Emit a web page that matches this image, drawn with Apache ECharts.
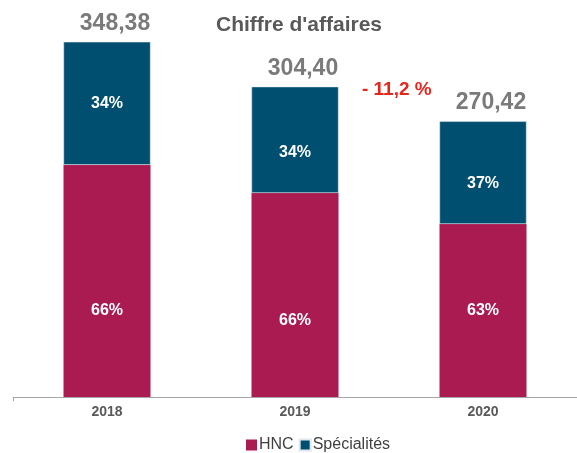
<!DOCTYPE html>
<html>
<head>
<meta charset="utf-8">
<script src="https://cdn.jsdelivr.net/npm/echarts@6/dist/echarts.min.js"></script>
<style>
  html, body { margin: 0; padding: 0; background: #fff; }
  #chart { width: 577px; height: 453px; }
</style>
</head>
<body>
<div id="chart"></div>
<script>
const years = ['2018', '2019', '2020']
const totals = [348.38, 304.40, 270.42]
const hnc = [227.7, 200.2, 169.8]
const specialites = [120.68, 104.2, 100.62]
const hncPct = ['66%', '66%', '63%']
const specPct = ['34%', '34%', '37%']
const variation = '- 11,2 %'

const chart = echarts.init(document.getElementById('chart'), undefined, { renderer: 'canvas' })
const font = 'Liberation Sans, Arial, sans-serif'

const pctLabel = (labels) => ({
  show: true,
  position: 'inside',
  color: '#fff',
  fontFamily: font,
  fontWeight: 'bold',
  fontSize: 16,
  formatter: (p) => labels[p.dataIndex],
})

chart.setOption({
  animation: false,
  backgroundColor: '#fff',
  grid: { left: 13, width: 568, top: 30, bottom: 56 },
  title: {
    text: "Chiffre d'affaires",
    left: 211,
    top: 10,
    textStyle: { color: '#595959', fontFamily: font, fontWeight: 'bold', fontSize: 21 },
  },
  graphic: [
    {
      type: 'text',
      left: 362,
      top: 80,
      style: { text: variation, fill: '#e8251c', font: 'bold 19px ' + font },
    },
  ],
  legend: {
    bottom: -5,
    left: 241,
    itemWidth: 11,
    itemHeight: 11,
    itemGap: 5,
    icon: 'rect',
    data: ['HNC', 'Spécialités'],
    textStyle: { color: '#404040', fontFamily: font, fontSize: 16, padding: [0, 0, 0, -3] },
  },
  xAxis: {
    type: 'category',
    data: years,
    axisLine: { lineStyle: { color: '#a6a6a6', width: 1 } },
    axisTick: {
      show: true,
      length: 4,
      interval: (i) => i === 0,
      lineStyle: { color: '#a6a6a6' },
    },
    axisLabel: { color: '#595959', fontFamily: font, fontWeight: 'bold', fontSize: 14, margin: 8 },
  },
  yAxis: {
    type: 'value',
    min: 0,
    max: 360,
    show: false,
    splitLine: { show: false },
  },
  series: [
    {
      name: 'HNC',
      type: 'bar',
      stack: 'ca',
      barWidth: 87,
      itemStyle: { color: '#a91b51' },
      data: hnc.map((v, i) => ({ value: v, label: { offset: [0, [30, 26, 0][i]] } })),
      label: pctLabel(hncPct),
    },
    {
      name: 'Spécialités',
      type: 'bar',
      stack: 'ca',
      barWidth: 87,
      itemStyle: { color: '#004f71', borderColor: '#dfe8ee', borderWidth: 0.5 },
      data: specialites.map((v, i) => ({ value: v, label: { offset: [0, [0, 13, 11][i]] } })),
      label: pctLabel(specPct),
    },
    {
      name: 'Total',
      type: 'scatter',
      symbolSize: 0,
      silent: true,
      data: totals,
      label: {
        show: true,
        position: 'top',
        distance: 7,
        offset: [8, 0],
        color: '#595959',
        fontFamily: font,
        fontWeight: 'bold',
        fontSize: 23,
        formatter: (p) => p.value.toFixed(2).replace('.', ','),
      },
    },
  ],
})
</script>
</body>
</html>
